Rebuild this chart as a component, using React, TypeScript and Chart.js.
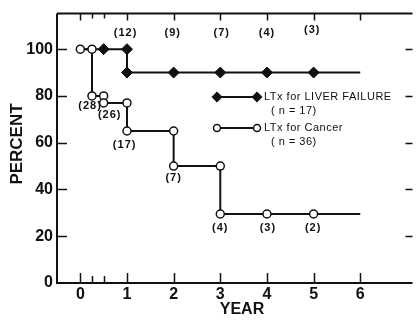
import { useEffect, useRef } from 'react';
import { Chart, registerables } from 'chart.js';

Chart.register(...registerables);

const FONT = '"Liberation Sans", Arial, Helvetica, sans-serif';
const INK = '#111111';

// Kaplan-Meier step curves
const liverTimes = [0, 1, 6];
const liverSurvival = [100, 90, 90];
const liverMarkerTimes = [0.5, 1, 1, 2, 3, 4, 5];
const liverMarkerSurvival = [100, 100, 90, 90, 90, 90, 90];

const cancerTimes = [0, 0.25, 0.5, 1, 2, 3, 6];
const cancerSurvival = [100, 80, 77, 65, 50, 29.5, 29.5];
const cancerMarkerTimes = [0, 0.25, 0.25, 0.5, 0.5, 1, 1, 2, 2, 3, 3, 4, 5];
const cancerMarkerSurvival = [100, 100, 80, 80, 77, 77, 65, 65, 50, 50, 29.5, 29.5, 29.5];

// numbers at risk
const liverAtRiskLabels = ['(12)', '(9)', '(7)', '(4)', '(3)'];
const liverAtRiskX = [0.97, 1.98, 3.03, 4.0, 4.97];
const liverAtRiskY = [107, 107, 107, 107, 108];

const cancerAtRiskLabels = ['(28)', '(26)', '(17)', '(7)', '(4)', '(3)', '(2)'];
const cancerAtRiskX = [0.21, 0.63, 0.95, 2.0, 3.0, 4.02, 4.99];
const cancerAtRiskY = [75.5, 72, 59, 44.7, 23.6, 23.6, 23.6];

// axes
const xTickValues = [0, 1, 2, 3, 4, 5, 6];
const xMinorTickValues = [0.25, 0.5];
const yTickValues = [0, 20, 40, 60, 80, 100];

const legendLabels = ['LTx for LIVER FAILURE', 'LTx for Cancer'];
const legendCounts = ['( n = 17)', '( n = 36)'];

const toXY = (xs: number[], ys: number[]) => xs.map((x, i) => ({ x, y: ys[i] }));

const drawDiamond = (ctx: CanvasRenderingContext2D, x: number, y: number, r: number) => {
  ctx.beginPath();
  ctx.moveTo(x, y - r);
  ctx.lineTo(x + r, y);
  ctx.lineTo(x, y + r);
  ctx.lineTo(x - r, y);
  ctx.closePath();
  ctx.fillStyle = INK;
  ctx.fill();
};

const drawCircle = (ctx: CanvasRenderingContext2D, x: number, y: number, r: number) => {
  ctx.beginPath();
  ctx.arc(x, y, r, 0, Math.PI * 2);
  ctx.fillStyle = '#ffffff';
  ctx.fill();
  ctx.lineWidth = 1.5;
  ctx.strokeStyle = INK;
  ctx.stroke();
};

const framePlugin = {
  id: 'frame',
  beforeDatasetsDraw(chart: any) {
    const { ctx, chartArea: a, scales } = chart;
    const xs = scales.x;
    const ys = scales.y;
    ctx.save();
    ctx.strokeStyle = INK;
    ctx.lineWidth = 2;
    ctx.beginPath();
    ctx.moveTo(a.left, a.top);
    ctx.lineTo(a.left, a.bottom);
    ctx.lineTo(a.right, a.bottom);
    ctx.moveTo(a.left, a.top);
    ctx.lineTo(a.right, a.top);
    ctx.stroke();

    ctx.lineWidth = 1.5;
    ctx.beginPath();
    xTickValues.forEach((v) => {
      const px = Math.round(xs.getPixelForValue(v)) + 0.5;
      ctx.moveTo(px, a.bottom);
      ctx.lineTo(px, a.bottom - 10);
      ctx.moveTo(px, a.top);
      ctx.lineTo(px, a.top + 7);
    });
    xMinorTickValues.forEach((v) => {
      const px = Math.round(xs.getPixelForValue(v)) + 0.5;
      ctx.moveTo(px, a.bottom);
      ctx.lineTo(px, a.bottom - 7);
      ctx.moveTo(px, a.top);
      ctx.lineTo(px, a.top + 5);
    });
    yTickValues.forEach((v) => {
      if (v === 0) return;
      const py = Math.round(ys.getPixelForValue(v)) + 0.5;
      ctx.moveTo(a.left, py);
      ctx.lineTo(a.left + 10, py);
      ctx.moveTo(a.right, py);
      ctx.lineTo(a.right - 7, py);
    });
    ctx.stroke();

    // axis titles
    ctx.fillStyle = INK;
    ctx.font = `bold 16px ${FONT}`;
    ctx.textAlign = 'center';
    ctx.textBaseline = 'middle';
    ctx.fillText('YEAR', 242, 310);
    ctx.save();
    ctx.translate(17, 144);
    ctx.rotate(-Math.PI / 2);
    ctx.font = `bold 17px ${FONT}`;
    ctx.fillText('PERCENT', 0, 0);
    ctx.restore();
    ctx.restore();
  },
  afterDatasetsDraw(chart: any) {
    const { ctx, scales } = chart;
    const xs = scales.x;
    const ys = scales.y;
    ctx.save();
    ctx.fillStyle = INK;
    ctx.font = `bold 11px ${FONT}`;
    (ctx as any).letterSpacing = '1px';
    ctx.textAlign = 'center';
    ctx.textBaseline = 'middle';
    liverAtRiskLabels.forEach((t, i) => {
      ctx.fillText(t, xs.getPixelForValue(liverAtRiskX[i]), ys.getPixelForValue(liverAtRiskY[i]));
    });
    cancerAtRiskLabels.forEach((t, i) => {
      ctx.fillText(t, xs.getPixelForValue(cancerAtRiskX[i]), ys.getPixelForValue(cancerAtRiskY[i]));
    });

    // legend
    const rows = [97, 128];
    ctx.strokeStyle = INK;
    ctx.lineWidth = 2;
    rows.forEach((ry) => {
      ctx.beginPath();
      ctx.moveTo(217, ry);
      ctx.lineTo(257, ry);
      ctx.stroke();
    });
    drawDiamond(ctx, 217, rows[0], 5.5);
    drawDiamond(ctx, 257, rows[0], 5.5);
    drawCircle(ctx, 217, rows[1], 3.5);
    drawCircle(ctx, 257, rows[1], 3.5);

    ctx.fillStyle = INK;
    ctx.font = `11px ${FONT}`;
    (ctx as any).letterSpacing = '0.5px';
    ctx.textAlign = 'left';
    ctx.fillText(legendLabels[0], 264, rows[0]);
    ctx.fillText(legendCounts[0], 271, rows[0] + 14);
    ctx.fillText(legendLabels[1], 264, rows[1]);
    ctx.fillText(legendCounts[1], 271, rows[1] + 14);
    ctx.restore();
  },
};

export default function App() {
  const ref = useRef<HTMLCanvasElement | null>(null);

  useEffect(() => {
    document.body.style.margin = '0';
    const canvas = ref.current;
    if (!canvas) return;
    const tickFont = { family: FONT, size: 16, weight: 'bold' as const };
    const chart = new Chart(canvas, {
      type: 'line',
      data: {
        datasets: [
          {
            label: 'liver markers',
            data: toXY(liverMarkerTimes, liverMarkerSurvival),
            showLine: false,
            pointStyle: 'rectRot',
            pointRadius: 5.5,
            pointBackgroundColor: INK,
            pointBorderColor: INK,
            pointBorderWidth: 1,
            order: 1,
          },
          {
            label: 'cancer markers',
            data: toXY(cancerMarkerTimes, cancerMarkerSurvival),
            showLine: false,
            pointStyle: 'circle',
            pointRadius: 4,
            pointBackgroundColor: '#ffffff',
            pointBorderColor: INK,
            pointBorderWidth: 1.5,
            order: 2,
          },
          {
            label: 'LTx for LIVER FAILURE',
            data: toXY(liverTimes, liverSurvival),
            stepped: 'before',
            borderColor: INK,
            borderWidth: 2,
            pointRadius: 0,
            fill: false,
            order: 3,
          },
          {
            label: 'LTx for Cancer',
            data: toXY(cancerTimes, cancerSurvival),
            stepped: 'before',
            borderColor: INK,
            borderWidth: 2,
            pointRadius: 0,
            fill: false,
            order: 4,
          },
        ],
      },
      options: {
        responsive: false,
        animation: false,
        devicePixelRatio: 1,
        layout: { padding: { top: 10, right: 0, left: 0, bottom: 0 } },
        plugins: { legend: { display: false }, tooltip: { enabled: false } },
        events: [],
        scales: {
          x: {
            type: 'linear',
            min: -0.5,
            max: 7.12,
            afterBuildTicks: (s: any) => {
              s.ticks = xTickValues.map((v) => ({ value: v }));
            },
            afterFit: (s: any) => {
              s.height = 38;
            },
            ticks: { font: tickFont, color: INK, padding: 2, maxRotation: 0, autoSkip: false },
            grid: { display: false, drawTicks: false },
            border: { display: false },
          },
          y: {
            type: 'linear',
            min: 0,
            max: 115.2,
            afterBuildTicks: (s: any) => {
              s.ticks = yTickValues.map((v) => ({ value: v }));
            },
            afterFit: (s: any) => {
              s.width = 57;
            },
            ticks: { font: tickFont, color: INK, padding: 4, autoSkip: false },
            grid: { display: false, drawTicks: false },
            border: { display: false },
          },
        },
      },
      plugins: [framePlugin],
    });
    return () => chart.destroy();
  }, []);

  return (
    <div style={{ width: 419, height: 321 }}>
      <canvas ref={ref} width={419} height={321} style={{ display: 'block' }} />
    </div>
  );
}
